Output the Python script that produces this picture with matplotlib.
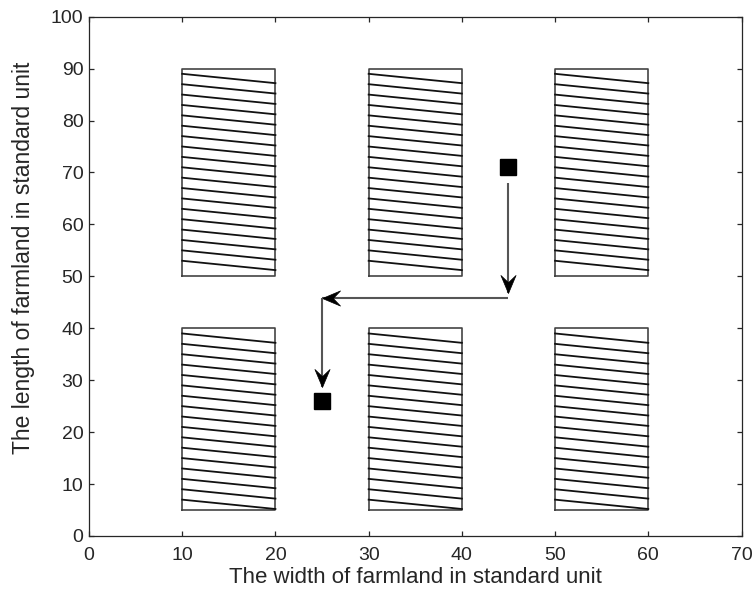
import matplotlib
matplotlib.use("Agg")
import matplotlib.pyplot as plt
import numpy as np
from matplotlib.path import Path

plt.rcParams['font.family'] = ['Liberation Sans', 'DejaVu Sans']

# Farmland plots
plots_x = [(10, 20), (30, 40), (50, 60)]
plots_y = [(50, 90), (5, 40)]
# hatch line left-end heights per row (top row, bottom row)
hatch_left_top = list(range(89, 52, -2))     # 89..53
hatch_left_bot = list(range(39, 6, -2))      # 39..7
hatch_drop = 1.8

# robot start/end and route (segments end at arrow tips)
start_pt = (45, 71)
end_pt = (25, 26)
seg_x0 = [45, 45, 25]
seg_y0 = [68, 45.8, 45.8]
seg_x1 = [45, 25, 25]
seg_y1 = [46.8, 45.8, 28.7]

fig = plt.figure(figsize=(7.55, 5.9), dpi=100)
ax = fig.add_axes([89 / 755, 54 / 590, 652.5 / 755, 519.3 / 590])

for (x0, x1) in plots_x:
    for (y0, y1), hl in zip(plots_y, [hatch_left_top, hatch_left_bot]):
        ax.plot([x0, x1, x1, x0, x0], [y0, y0, y1, y1, y0], color='#444444', lw=1.2)
        for yl in hl:
            ax.plot([x0, x1], [yl, max(yl - hatch_drop, y0)], color='#111111', lw=1.3)


def stealth(angle_deg):
    verts = np.array([(0, 0), (-0.42, -1.0), (0, -0.6), (0.42, -1.0), (0, 0)])
    a = np.deg2rad(angle_deg)
    R = np.array([[np.cos(a), -np.sin(a)], [np.sin(a), np.cos(a)]])
    v = verts @ R.T
    return Path(v, [Path.MOVETO, Path.LINETO, Path.LINETO, Path.LINETO, Path.CLOSEPOLY])


for xa, ya, xb, yb in zip(seg_x0, seg_y0, seg_x1, seg_y1):
    ax.plot([xa, xb], [ya, yb], color='#555555', lw=1.5, solid_capstyle='butt')
    ang = np.degrees(np.arctan2(yb - ya, xb - xa)) - 90
    ax.plot([xb], [yb], marker=stealth(ang), markersize=26, color='black', mec='black', mew=0.5)

ax.plot([start_pt[0], end_pt[0]], [start_pt[1], end_pt[1]], ls='none', marker='s',
        markersize=12, color='black')

ax.set_xlim(0, 70)
ax.set_ylim(0, 100)
ax.set_xticks(range(0, 71, 10))
ax.set_yticks(range(0, 101, 10))
ax.tick_params(direction='in', length=3.5, width=0.9, labelsize=14, colors='#262626',
               top=True, right=True, pad=8)
ax.tick_params(axis='y', pad=4)
for s in ax.spines.values():
    s.set_color('#262626')
    s.set_linewidth(0.9)
ax.set_xlabel('The width of farmland in standard unit', fontsize=16, color='#262626', labelpad=2)
ax.set_ylabel('The length of farmland in standard unit', fontsize=16.5, color='#262626')
ax.yaxis.set_label_coords(-0.083, 0.535)

fig.savefig('out.png', dpi=100)
